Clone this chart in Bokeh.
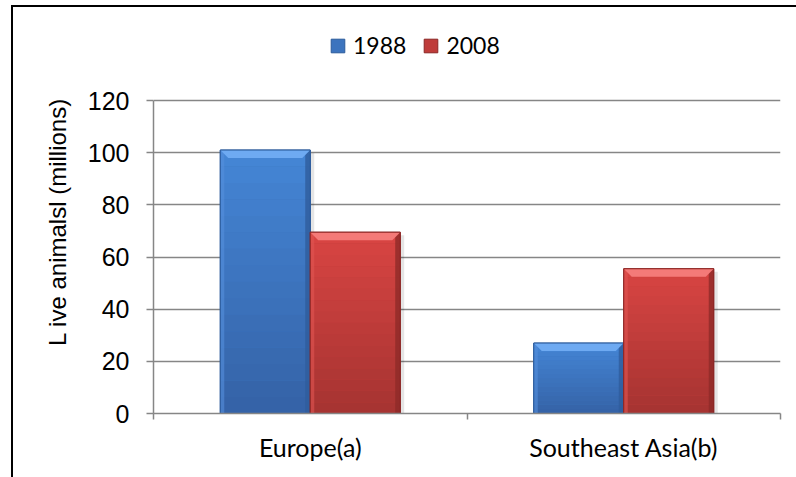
from bokeh.plotting import figure
from bokeh.models import FixedTicker, Legend, LegendItem
from bokeh.embed import file_html
from bokeh.resources import INLINE

# ---- data ----
categories = ["Europe(a)", "Southeast Asia(b)"]
series_names = ["1988", "2008"]
values_1988 = [101, 27]
values_2008 = [69.5, 55.5]
y_ticks = [0, 20, 40, 60, 80, 100, 120]
y_label = "L ive animalsl (millions)"

# ---- layout ----
W, H = 796, 477
ML, MR, MT, MB = 153, 16, 30, 64
FW, FH = W - ML - MR, H - MT - MB
YMAX = 120
PLOT_H = 313                      # pixels covered by 0..YMAX
YTOP = YMAX * FH / PLOT_H
XMAX = len(categories)
px_x = XMAX / FW
px_y = YMAX / PLOT_H

styles = {
    "1988": dict(bottom="#3462a6", top="#4586d6", edge="#2b5a9a", bevel="#6eaaf2",
                 left="#5590dc", right="#2f5c9c"),
    "2008": dict(bottom="#a53331", top="#d94543", edge="#8a2624", bevel="#f47a78",
                 left="#e05552", right="#8e2a28"),
}
bar_w = 0.287
offsets = [-0.1435, 0.1435]


def hex2rgb(h):
    h = h.lstrip("#")
    return tuple(int(h[i:i + 2], 16) for i in (0, 2, 4))


def mix(c1, c2, t):
    a, b = hex2rgb(c1), hex2rgb(c2)
    return "#%02x%02x%02x" % tuple(round(a[i] + (b[i] - a[i]) * t) for i in range(3))


p = figure(width=W, height=H, x_range=(0, XMAX), y_range=(0, YTOP),
           output_backend="svg", toolbar_location=None,
           min_border_left=ML, min_border_right=MR, min_border_top=MT, min_border_bottom=MB)
p.border_fill_color = None
p.background_fill_color = "white"
p.outline_line_color = None
p.styles = {"box-shadow": "inset 11px 0 0 0 #fff, inset 0 5px 0 0 #fff, "
                          "inset 13px 0 0 0 #000, inset 0 7px 0 0 #000",
            "background": "white"}

# grid
p.xgrid.grid_line_color = None
p.ygrid.ticker = FixedTicker(ticks=y_ticks)
p.ygrid.grid_line_color = "#868686"
p.ygrid.grid_line_width = 1.6

# y axis
yax = p.yaxis[0]
yax.ticker = FixedTicker(ticks=y_ticks)
yax.bounds = (0, YMAX)
yax.axis_line_color = "#868686"
yax.axis_line_width = 1.5
yax.major_tick_line_color = "#868686"
yax.major_tick_line_width = 1.5
yax.major_tick_out = 7
yax.major_tick_in = 0
yax.minor_tick_line_color = None
yax.major_label_standoff = 17
yax.major_label_text_font = "Liberation Sans"
yax.major_label_text_font_size = "25px"
yax.major_label_text_color = "#000000"
yax.axis_label = y_label
yax.axis_label_text_font = "Liberation Sans"
yax.axis_label_text_font_size = "24px"
yax.axis_label_text_font_style = "normal"
yax.axis_label_text_color = "#000000"
yax.axis_label_standoff = 14

# x axis
xax = p.xaxis[0]
centers = [i + 0.5 for i in range(len(categories))]
xax.ticker = FixedTicker(ticks=centers, minor_ticks=list(range(len(categories) + 1)))
xax.major_label_overrides = {c: name for c, name in zip(centers, categories)}
xax.axis_line_color = "#868686"
xax.axis_line_width = 1.5
xax.major_tick_line_color = None
xax.major_tick_out = 0
xax.major_tick_in = 0
xax.minor_tick_line_color = "#868686"
xax.minor_tick_line_width = 1.5
xax.minor_tick_out = 6
xax.minor_tick_in = 0
xax.major_label_standoff = 12
xax.major_label_text_font = "Lato"
xax.major_label_text_font_size = "25px"
xax.major_label_text_color = "#000000"

legend_items = []
NB = 16
bev = 8  # bevel in px
for s_i, (name, vals) in enumerate(zip(series_names, [values_1988, values_2008])):
    st = styles[name]
    xs = [c + offsets[s_i] for c in centers]
    lefts = [x - bar_w / 2 for x in xs]
    rights = [x + bar_w / 2 for x in xs]
    # soft shadow
    p.quad(left=[l + 3 * px_x for l in lefts], right=[r + 4 * px_x for r in rights],
           bottom=[-2] * len(vals), top=[v - 3 * px_y for v in vals],
           fill_color="#000000", fill_alpha=0.10, line_color=None)
    body = p.vbar(x=xs, top=vals, width=bar_w, bottom=0,
                  fill_color=mix(st["bottom"], st["top"], 0.5), line_color=st["edge"], line_width=1)
    legend_items.append(LegendItem(label=name, renderers=[body]))
    # vertical gradient bands
    for k in range(NB):
        t = (k + 0.5) / NB
        p.quad(left=lefts, right=rights,
               bottom=[v * k / NB for v in vals], top=[v * (k + 1) / NB for v in vals],
               fill_color=mix(st["bottom"], st["top"], t), line_color=None)
    # side bevels
    p.quad(left=lefts, right=[l + 4 * px_x for l in lefts], bottom=[0] * len(vals), top=vals,
           fill_color=st["left"], fill_alpha=0.6, line_color=None)
    p.quad(left=[r - 5 * px_x for r in rights], right=rights, bottom=[0] * len(vals), top=vals,
           fill_color=st["right"], fill_alpha=0.8, line_color=None)
    # top bevel (trapezoid)
    pxs = [[l, r, r - bev * px_x, l + bev * px_x] for l, r in zip(lefts, rights)]
    pys = [[v, v, v - bev * px_y, v - bev * px_y] for v in vals]
    p.patches(xs=pxs, ys=pys, fill_color=st["bevel"], line_color=None)
    # outline
    p.vbar(x=xs, top=vals, width=bar_w, bottom=0, fill_color=None,
           line_color=st["edge"], line_width=1)

legend = Legend(items=legend_items, orientation="horizontal", location=(176, 354))
legend.glyph_width = 17
legend.glyph_height = 17
legend.label_standoff = 7
legend.spacing = 16
legend.padding = 0
legend.margin = 0
legend.border_line_color = None
legend.background_fill_alpha = 0
legend.label_text_font = "Lato"
legend.label_text_font_size = "23px"
legend.label_text_color = "#000000"
p.add_layout(legend, "center")

open("out.html", "w").write(file_html(p, INLINE))
